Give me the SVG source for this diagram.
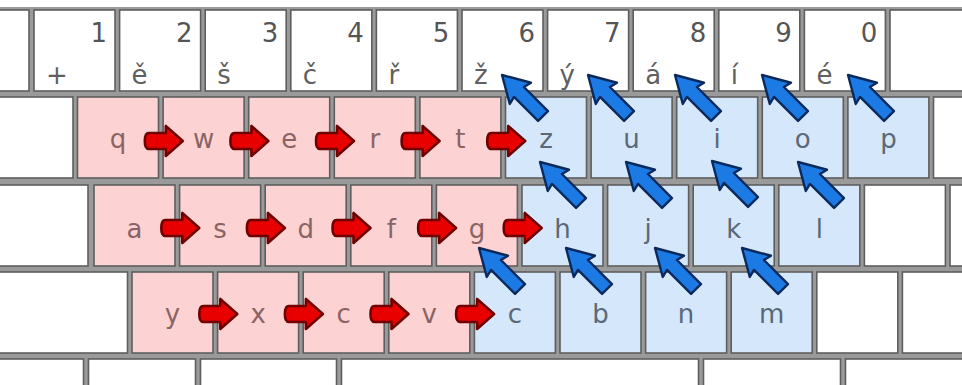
<svg xmlns="http://www.w3.org/2000/svg" width="962" height="385" viewBox="0 0 962 385">
<style>
.k{stroke:#5e5e5e;stroke-width:1.6}
.kw{fill:#ffffff}
.kp{fill:#fdd2d2}
.kb{fill:#d5e7fa}
text{font-family:"DejaVu Sans","Liberation Sans",sans-serif;font-size:26px}
.d{fill:#555555;text-anchor:end}
.s{fill:#606060}
.lp{fill:#8a6464;text-anchor:middle}
.lb{fill:#5a6878;text-anchor:middle}
.ra{fill:#e80000;stroke:#6e0000;stroke-width:2.6;stroke-linejoin:round}
.ba{fill:#1c7ae4;stroke:#0a2a5c;stroke-width:2.4;stroke-linejoin:round}
</style>
<defs>
<path id="red" class="ra" d="M0,0 L-17,-15 L-17,-8 L-34,-8 Q-38,-8 -38,0 Q-38,8 -34,8 L-17,8 L-17,15 Z"/>
<path id="blue" class="ba" d="M0,0 L-26,-15 L-24,-7 L-58,-7 L-58,7 L-24,7 L-26,15 Z"/>
</defs>
<rect x="0" y="7" width="962" height="378" fill="#9a9a9a"/>

<g id="row1">
<g id="key-blank1a"><rect class="k kw" x="-52" y="10" width="81" height="81"/></g>
<g id="key-1"><rect class="k kw" x="34" y="10" width="81" height="81"/><text class="d" x="107" y="42">1</text><text class="s" x="46" y="84">+</text></g>
<g id="key-2"><rect class="k kw" x="119.6" y="10" width="81" height="81"/><text class="d" x="192.6" y="42">2</text><text class="s" x="131.6" y="84">ě</text></g>
<g id="key-3"><rect class="k kw" x="205.2" y="10" width="81" height="81"/><text class="d" x="278.2" y="42">3</text><text class="s" x="217.2" y="84">š</text></g>
<g id="key-4"><rect class="k kw" x="290.8" y="10" width="81" height="81"/><text class="d" x="363.8" y="42">4</text><text class="s" x="302.8" y="84">č</text></g>
<g id="key-5"><rect class="k kw" x="376.4" y="10" width="81" height="81"/><text class="d" x="449.4" y="42">5</text><text class="s" x="388.4" y="84">ř</text></g>
<g id="key-6"><rect class="k kw" x="462" y="10" width="81" height="81"/><text class="d" x="535" y="42">6</text><text class="s" x="474" y="84">ž</text></g>
<g id="key-7"><rect class="k kw" x="547.6" y="10" width="81" height="81"/><text class="d" x="620.6" y="42">7</text><text class="s" x="559.6" y="84">ý</text></g>
<g id="key-8"><rect class="k kw" x="633.2" y="10" width="81" height="81"/><text class="d" x="706.2" y="42">8</text><text class="s" x="645.2" y="84">á</text></g>
<g id="key-9"><rect class="k kw" x="718.8" y="10" width="81" height="81"/><text class="d" x="791.8" y="42">9</text><text class="s" x="730.8" y="84">í</text></g>
<g id="key-0"><rect class="k kw" x="804.4" y="10" width="81" height="81"/><text class="d" x="877.4" y="42">0</text><text class="s" x="816.4" y="84">é</text></g>
<g id="key-blank1b"><rect class="k kw" x="890" y="10" width="81" height="81"/></g>
</g>

<g id="row2">
<g id="key-blank2a"><rect class="k kw" x="-8" y="97" width="81" height="81"/></g>
<g id="key-q"><rect class="k kp" x="77.5" y="97" width="81" height="81"/><text class="lp" x="118" y="148">q</text></g>
<g id="key-w"><rect class="k kp" x="163.1" y="97" width="81" height="81"/><text class="lp" x="203.6" y="148">w</text></g>
<g id="key-e"><rect class="k kp" x="248.7" y="97" width="81" height="81"/><text class="lp" x="289.2" y="148">e</text></g>
<g id="key-r"><rect class="k kp" x="334.3" y="97" width="81" height="81"/><text class="lp" x="374.8" y="148">r</text></g>
<g id="key-t"><rect class="k kp" x="419.9" y="97" width="81" height="81"/><text class="lp" x="460.4" y="148">t</text></g>
<g id="key-z"><rect class="k kb" x="505.5" y="97" width="81" height="81"/><text class="lb" x="546" y="148">z</text></g>
<g id="key-u"><rect class="k kb" x="591.1" y="97" width="81" height="81"/><text class="lb" x="631.6" y="148">u</text></g>
<g id="key-i"><rect class="k kb" x="676.7" y="97" width="81" height="81"/><text class="lb" x="717.2" y="148">i</text></g>
<g id="key-o"><rect class="k kb" x="762.3" y="97" width="81" height="81"/><text class="lb" x="802.8" y="148">o</text></g>
<g id="key-p"><rect class="k kb" x="847.9" y="97" width="81" height="81"/><text class="lb" x="888.4" y="148">p</text></g>
<g id="key-blank2b"><rect class="k kw" x="933.5" y="97" width="81" height="81"/></g>
</g>

<g id="row3">
<g id="key-blank3a"><rect class="k kw" x="-20" y="185" width="108" height="81"/></g>
<g id="key-a"><rect class="k kp" x="94" y="185" width="81" height="81"/><text class="lp" x="134.5" y="238">a</text></g>
<g id="key-s"><rect class="k kp" x="179.6" y="185" width="81" height="81"/><text class="lp" x="220.1" y="238">s</text></g>
<g id="key-d"><rect class="k kp" x="265.2" y="185" width="81" height="81"/><text class="lp" x="305.7" y="238">d</text></g>
<g id="key-f"><rect class="k kp" x="350.8" y="185" width="81" height="81"/><text class="lp" x="391.3" y="238">f</text></g>
<g id="key-g"><rect class="k kp" x="436.4" y="185" width="81" height="81"/><text class="lp" x="476.9" y="238">g</text></g>
<g id="key-h"><rect class="k kb" x="522" y="185" width="81" height="81"/><text class="lb" x="562.5" y="238">h</text></g>
<g id="key-j"><rect class="k kb" x="607.6" y="185" width="81" height="81"/><text class="lb" x="648.1" y="238">j</text></g>
<g id="key-k"><rect class="k kb" x="693.2" y="185" width="81" height="81"/><text class="lb" x="733.7" y="238">k</text></g>
<g id="key-l"><rect class="k kb" x="778.8" y="185" width="81" height="81"/><text class="lb" x="819.3" y="238">l</text></g>
<g id="key-blank3b"><rect class="k kw" x="864.4" y="185" width="81" height="81"/></g>
<g id="key-blank3c"><rect class="k kw" x="950" y="185" width="81" height="81"/></g>
</g>

<g id="row4">
<g id="key-blank4a"><rect class="k kw" x="-20" y="272" width="147.5" height="81"/></g>
<g id="key-y"><rect class="k kp" x="132" y="272" width="81" height="81"/><text class="lp" x="172.5" y="323">y</text></g>
<g id="key-x"><rect class="k kp" x="217.6" y="272" width="81" height="81"/><text class="lp" x="258.1" y="323">x</text></g>
<g id="key-c1"><rect class="k kp" x="303.2" y="272" width="81" height="81"/><text class="lp" x="343.7" y="323">c</text></g>
<g id="key-v"><rect class="k kp" x="388.8" y="272" width="81" height="81"/><text class="lp" x="429.3" y="323">v</text></g>
<g id="key-c2"><rect class="k kb" x="474.4" y="272" width="81" height="81"/><text class="lb" x="514.9" y="323">c</text></g>
<g id="key-b"><rect class="k kb" x="560" y="272" width="81" height="81"/><text class="lb" x="600.5" y="323">b</text></g>
<g id="key-n"><rect class="k kb" x="645.6" y="272" width="81" height="81"/><text class="lb" x="686.1" y="323">n</text></g>
<g id="key-m"><rect class="k kb" x="731.2" y="272" width="81" height="81"/><text class="lb" x="771.7" y="323">m</text></g>
<g id="key-blank4b"><rect class="k kw" x="816.8" y="272" width="81" height="81"/></g>
<g id="key-blank4c"><rect class="k kw" x="902.4" y="272" width="81" height="81"/></g>
</g>

<g id="row5">
<g id="key-b5a"><rect class="k kw" x="-20" y="359" width="103.5" height="40"/></g>
<g id="key-b5b"><rect class="k kw" x="88.5" y="359" width="107" height="40"/></g>
<g id="key-b5c"><rect class="k kw" x="200.5" y="359" width="136" height="40"/></g>
<g id="key-b5d"><rect class="k kw" x="341.5" y="359" width="357" height="40"/></g>
<g id="key-b5e"><rect class="k kw" x="703.5" y="359" width="137" height="40"/></g>
<g id="key-b5f"><rect class="k kw" x="845.5" y="359" width="137" height="40"/></g>
</g>

<g id="connectors">
<use href="#red" transform="translate(182.8,141)"/>
<use href="#red" transform="translate(268.4,141)"/>
<use href="#red" transform="translate(354,141)"/>
<use href="#red" transform="translate(439.6,141)"/>
<use href="#red" transform="translate(525.2,141)"/>
<use href="#red" transform="translate(199.3,228)"/>
<use href="#red" transform="translate(284.9,228)"/>
<use href="#red" transform="translate(370.5,228)"/>
<use href="#red" transform="translate(456.1,228)"/>
<use href="#red" transform="translate(541.7,228)"/>
<use href="#red" transform="translate(237.3,314)"/>
<use href="#red" transform="translate(322.9,314)"/>
<use href="#red" transform="translate(408.5,314)"/>
<use href="#red" transform="translate(494.1,314)"/>
<use href="#blue" transform="translate(502,75) rotate(225)"/>
<use href="#blue" transform="translate(588,75) rotate(225)"/>
<use href="#blue" transform="translate(675,75) rotate(225)"/>
<use href="#blue" transform="translate(762,75) rotate(225)"/>
<use href="#blue" transform="translate(848,75) rotate(225)"/>
<use href="#blue" transform="translate(540,162) rotate(225)"/>
<use href="#blue" transform="translate(626,162) rotate(225)"/>
<use href="#blue" transform="translate(712,161) rotate(225)"/>
<use href="#blue" transform="translate(798,162) rotate(225)"/>
<use href="#blue" transform="translate(479,248) rotate(225)"/>
<use href="#blue" transform="translate(566,248) rotate(225)"/>
<use href="#blue" transform="translate(655,248) rotate(225)"/>
<use href="#blue" transform="translate(742,248) rotate(225)"/>
</g>
</svg>
